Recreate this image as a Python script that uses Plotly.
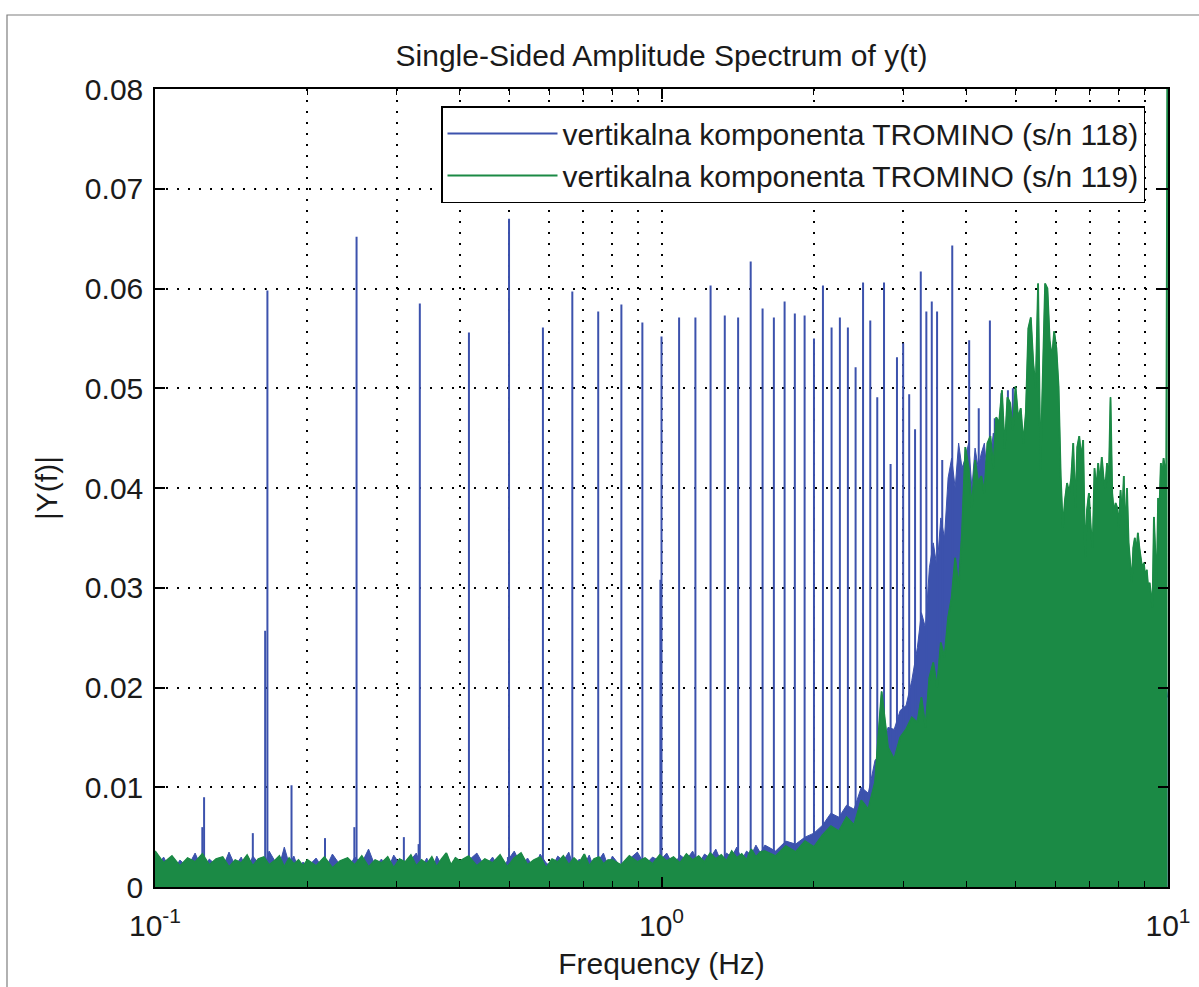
import plotly.graph_objects as go

# ---------------- data ----------------
# frequency sampling grid (Hz) used for reading the noise floor of both spectra
freq_low = [
    0.100, 0.104, 0.108, 0.112, 0.116, 0.120, 0.124, 0.128, 0.132, 0.136,
    0.140, 0.144, 0.148, 0.152, 0.156, 0.160, 0.164, 0.168, 0.172, 0.176,
    0.180, 0.184, 0.188, 0.192, 0.196,
    0.200, 0.208, 0.216, 0.224, 0.232, 0.240, 0.248, 0.256, 0.264, 0.272,
    0.280, 0.288, 0.296, 0.304, 0.312, 0.320, 0.328, 0.336, 0.344, 0.352,
    0.360, 0.368, 0.376, 0.384, 0.392,
    0.400, 0.416, 0.432, 0.448, 0.464, 0.480, 0.496, 0.512, 0.528, 0.544,
    0.560, 0.576, 0.592, 0.608, 0.624, 0.640, 0.656, 0.672, 0.688, 0.704,
    0.720, 0.736, 0.752, 0.768, 0.784,
    0.800, 0.832, 0.864, 0.896, 0.928, 0.960, 0.992, 1.024, 1.056, 1.088,
    1.120, 1.152, 1.184, 1.216, 1.248, 1.280, 1.312, 1.344, 1.376, 1.408,
    1.440, 1.472, 1.504, 1.536, 1.568,
]
freq_mid = [
    1.60, 1.68, 1.76, 1.84, 1.92, 2.00, 2.08, 2.16, 2.24, 2.32,
    2.40, 2.48, 2.56, 2.64, 2.72, 2.80, 2.88, 2.96, 3.04, 3.12,
]
freq_high = [
    3.20, 3.26, 3.32, 3.38, 3.44, 3.50, 3.56, 3.62, 3.68, 3.74,
    3.80, 3.86, 3.92, 3.98, 4.04, 4.10, 4.16, 4.22, 4.28, 4.34,
    4.40, 4.46, 4.52, 4.58, 4.64, 4.70, 4.76, 4.82, 4.88, 4.94,
    5.00, 5.06, 5.12, 5.18, 5.24, 5.30, 5.36, 5.42, 5.48, 5.54,
    5.60, 5.66, 5.72, 5.78, 5.84, 5.90, 5.96, 6.02, 6.08, 6.14,
    6.20, 6.26, 6.32, 6.38, 6.44, 6.50, 6.56, 6.62, 6.68, 6.74,
    6.80, 6.86, 6.92, 6.98, 7.04, 7.10, 7.16, 7.22, 7.28, 7.34,
    7.40, 7.46, 7.52, 7.58, 7.64, 7.70, 7.76, 7.82, 7.88, 7.94,
    8.00, 8.06, 8.12, 8.18, 8.24, 8.30, 8.36, 8.42, 8.48, 8.54,
    8.60, 8.66, 8.72, 8.78, 8.84, 8.90, 8.96, 9.02, 9.08, 9.14,
    9.20, 9.26, 9.32, 9.38, 9.44, 9.50, 9.56, 9.62, 9.68, 9.74,
    9.80, 9.86, 9.92, 9.98,
]

# |Y(f)| of s/n 118 (blue) noise floor
blue_low = [
    0.0018, 0.0030, 0.0014, 0.0027, 0.0020, 0.0034, 0.0017, 0.0028, 0.0022, 0.0019,
    0.0035, 0.0021, 0.0030, 0.0016, 0.0031, 0.0024, 0.0019, 0.0036, 0.0027, 0.0021,
    0.0040, 0.0023, 0.0031, 0.0018, 0.0025,
    0.0020, 0.0029, 0.0016, 0.0033, 0.0022, 0.0018, 0.0030, 0.0024, 0.0038, 0.0021,
    0.0028, 0.0017, 0.0032, 0.0023, 0.0019, 0.0027, 0.0034, 0.0020, 0.0029, 0.0016,
    0.0031, 0.0022, 0.0026, 0.0018, 0.0030,
    0.0019, 0.0027, 0.0034, 0.0020, 0.0030, 0.0017, 0.0026, 0.0036, 0.0022, 0.0029,
    0.0018, 0.0033, 0.0024, 0.0020, 0.0031, 0.0026, 0.0035, 0.0019, 0.0028, 0.0022,
    0.0032, 0.0018, 0.0027, 0.0034, 0.0021,
    0.0031, 0.0020, 0.0028, 0.0035, 0.0022, 0.0030, 0.0026, 0.0034, 0.0021, 0.0032,
    0.0027, 0.0036, 0.0023, 0.0033, 0.0029, 0.0038, 0.0025, 0.0034, 0.0030, 0.0040,
    0.0027, 0.0036, 0.0032, 0.0042, 0.0034,
]
blue_mid = [
    0.0042, 0.0036, 0.0046, 0.0043, 0.0050, 0.0054, 0.0062, 0.0074, 0.0070, 0.0082,
    0.0078, 0.0100, 0.0094, 0.0127, 0.0135, 0.0160, 0.0158, 0.0177, 0.0182, 0.0207,
]
blue_high = [
    0.0240, 0.0275, 0.0260, 0.0320, 0.0345, 0.0320, 0.0370, 0.0350, 0.0410, 0.0430,
    0.0400, 0.0445, 0.0420, 0.0430, 0.0445, 0.0400, 0.0440, 0.0420, 0.0435, 0.0445,
    0.0410, 0.0430, 0.0455, 0.0420, 0.0440, 0.0420, 0.0450, 0.0410, 0.0430, 0.0440,
    0.0400, 0.0380, 0.0350, 0.0365, 0.0330, 0.0355, 0.0340, 0.0320, 0.0345, 0.0310,
    0.0335, 0.0325, 0.0300, 0.0330, 0.0315, 0.0295, 0.0320, 0.0305, 0.0290, 0.0310,
    0.0300, 0.0285, 0.0305, 0.0290, 0.0275, 0.0300, 0.0285, 0.0270, 0.0295, 0.0280,
    0.0265, 0.0290, 0.0275, 0.0260, 0.0285, 0.0270, 0.0255, 0.0280, 0.0265, 0.0250,
    0.0275, 0.0260, 0.0245, 0.0270, 0.0255, 0.0240, 0.0265, 0.0250, 0.0235, 0.0260,
    0.0245, 0.0230, 0.0255, 0.0240, 0.0225, 0.0250, 0.0235, 0.0220, 0.0245, 0.0230,
    0.0215, 0.0240, 0.0225, 0.0210, 0.0235, 0.0220, 0.0205, 0.0230, 0.0215, 0.0200,
    0.0225, 0.0210, 0.0195, 0.0220, 0.0205, 0.0190, 0.0215, 0.0200, 0.0185, 0.0210,
    0.0195, 0.0180, 0.0205, 0.0190,
]

# |Y(f)| of s/n 119 (green)
green_low = [
    0.0036, 0.0024, 0.0031, 0.0021, 0.0029, 0.0025, 0.0033, 0.0022, 0.0028, 0.0030,
    0.0020, 0.0027, 0.0024, 0.0032, 0.0021, 0.0028, 0.0030, 0.0022, 0.0026, 0.0031,
    0.0020, 0.0029, 0.0023, 0.0027, 0.0021,
    0.0027, 0.0021, 0.0030, 0.0019, 0.0026, 0.0029, 0.0022, 0.0031, 0.0020, 0.0027,
    0.0024, 0.0030, 0.0019, 0.0028, 0.0025, 0.0032, 0.0021, 0.0027, 0.0023, 0.0030,
    0.0020, 0.0028, 0.0034, 0.0022, 0.0029,
    0.0026, 0.0031, 0.0021, 0.0028, 0.0024, 0.0032, 0.0020, 0.0029, 0.0034, 0.0022,
    0.0027, 0.0030, 0.0019, 0.0028, 0.0025, 0.0031, 0.0022, 0.0029, 0.0024, 0.0033,
    0.0021, 0.0028, 0.0030, 0.0023, 0.0027,
    0.0027, 0.0022, 0.0031, 0.0025, 0.0029, 0.0023, 0.0032, 0.0026, 0.0030, 0.0024,
    0.0033, 0.0027, 0.0031, 0.0025, 0.0034, 0.0028, 0.0032, 0.0026, 0.0036, 0.0029,
    0.0033, 0.0027, 0.0038, 0.0030, 0.0035,
]
green_mid = [
    0.0036, 0.0031, 0.0041, 0.0035, 0.0046, 0.0040, 0.0052, 0.0061, 0.0056, 0.0070,
    0.0062, 0.0087, 0.0078, 0.0105, 0.0196, 0.0140, 0.0128, 0.0150, 0.0158, 0.0170,
]
green_high = [
    0.0165, 0.0190, 0.0160, 0.0210, 0.0225, 0.0200, 0.0245, 0.0230, 0.0270, 0.0290,
    0.0330, 0.0300, 0.0355, 0.0441, 0.0420, 0.0380, 0.0428, 0.0405, 0.0412, 0.0395,
    0.0445, 0.0452, 0.0420, 0.0471, 0.0465, 0.0498, 0.0440, 0.0491, 0.0485, 0.0458,
    0.0502, 0.0470, 0.0480, 0.0445, 0.0475, 0.0560, 0.0571, 0.0525, 0.0500, 0.0605,
    0.0418, 0.0520, 0.0605, 0.0600, 0.0548, 0.0530, 0.0557, 0.0540, 0.0502, 0.0412,
    0.0360, 0.0388, 0.0405, 0.0395, 0.0410, 0.0445, 0.0380, 0.0441, 0.0452, 0.0430,
    0.0448, 0.0330, 0.0378, 0.0395, 0.0360, 0.0340, 0.0420, 0.0398, 0.0425, 0.0405,
    0.0431, 0.0410, 0.0400, 0.0425, 0.0405, 0.0491, 0.0395, 0.0375, 0.0385, 0.0380,
    0.0360, 0.0398, 0.0370, 0.0412, 0.0350, 0.0400, 0.0345, 0.0325, 0.0305, 0.0340,
    0.0350, 0.0335, 0.0355, 0.0340, 0.0330, 0.0318, 0.0325, 0.0310, 0.0318, 0.0300,
    0.0305, 0.0295, 0.0280, 0.0371, 0.0330, 0.0300, 0.0390, 0.0380, 0.0425, 0.0410,
    0.0430, 0.0420, 0.0400, 0.0900,
]

# discrete spectral lines of s/n 118 (blue)
spike_freq = [
    0.124, 0.125, 0.156, 0.165, 0.1667, 0.186, 0.2166, 0.2475, 0.25, 0.31,
    0.3315, 0.3333, 0.4167, 0.4975, 0.5, 0.5833, 0.6667, 0.75, 0.8333, 0.9167,
    0.995, 1.0, 1.0833, 1.1667, 1.25, 1.3333, 1.4167, 1.5, 1.5833, 1.6667,
    1.75, 1.8333, 1.9167, 2.0, 2.0833, 2.1667, 2.25, 2.3333, 2.4167, 2.5,
    2.5833, 2.6667, 2.75, 2.8333, 2.9167, 3.0, 3.0833, 3.1667, 3.25, 3.3333,
    3.4167, 3.5, 3.5833, 3.75, 4.05, 4.23, 4.45, 4.55, 4.69, 4.83,
    4.94, 5.22,
]
spike_amp = [
    0.0060, 0.0090, 0.0054, 0.0257, 0.0598, 0.0102, 0.0049, 0.0060, 0.0652, 0.0050,
    0.0043, 0.0585, 0.0556, 0.0030, 0.0670, 0.0561, 0.0597, 0.0577, 0.0584, 0.0566,
    0.0308, 0.0552, 0.0571, 0.0571, 0.0603, 0.0573, 0.0571, 0.0627, 0.0580, 0.0571,
    0.0587, 0.0575, 0.0573, 0.0550, 0.0603, 0.0561, 0.0571, 0.0561, 0.0521, 0.0606,
    0.0568, 0.0491, 0.0606, 0.0424, 0.0531, 0.0545, 0.0494, 0.0459, 0.0617, 0.0577,
    0.0587, 0.0577, 0.0428, 0.0643, 0.0548, 0.0480, 0.0568, 0.0470, 0.0495, 0.0498,
    0.0500, 0.0460,
]

x_tick_vals = [0.1, 1, 10]
x_tick_text = ["10<sup>-1</sup>", "10<sup>0</sup>", "10<sup>1</sup>"]
x_minor_vals = [0.2, 0.3, 0.4, 0.5, 0.6, 0.7, 0.8, 0.9, 2, 3, 4, 5, 6, 7, 8, 9]
y_tick_vals = [0, 0.01, 0.02, 0.03, 0.04, 0.05, 0.06, 0.07, 0.08]
y_tick_text = ["0", "0.01", "0.02", "0.03", "0.04", "0.05", "0.06", "0.07", "0.08"]

series_names = ["vertikalna komponenta TROMINO (s/n 118)",
                "vertikalna komponenta TROMINO (s/n 119)"]

# ---------------- build figure ----------------
BLUE = "#3c52ad"
GREEN = "#1b8a45"
TXT = "#1a1a1a"
FONT = "Liberation Sans, Arial, Helvetica, sans-serif"

freq = freq_low + freq_mid + freq_high
blue_noise = blue_low + blue_mid + blue_high
green_noise = green_low + green_mid + green_high

spike_x, spike_y = [], []
for f, a in zip(spike_freq, spike_amp):
    spike_x += [f, f, None]
    spike_y += [0, a, None]

fig = go.Figure()
fig.add_trace(go.Scatter(x=freq, y=blue_noise, mode="lines", fill="tozeroy",
                         fillcolor=BLUE, line=dict(color=BLUE, width=1),
                         showlegend=False, hoverinfo="skip"))
fig.add_trace(go.Scatter(x=spike_x, y=spike_y, mode="lines",
                         line=dict(color=BLUE, width=2),
                         name=series_names[0]))
fig.add_trace(go.Scatter(x=freq, y=green_noise, mode="lines", fill="tozeroy",
                         fillcolor=GREEN, line=dict(color=GREEN, width=1),
                         showlegend=False, hoverinfo="skip"))
fig.add_trace(go.Scatter(x=freq, y=green_noise, mode="lines",
                         line=dict(color=GREEN, width=1.8),
                         name=series_names[1]))

grid_dash = "2px,9px"
fig.update_layout(
    width=1199, height=987, autosize=False,
    margin=dict(l=155, r=31, t=89, b=100),
    paper_bgcolor="white", plot_bgcolor="white",
    font=dict(family=FONT, size=30, color=TXT),
    title=dict(text="Single-Sided Amplitude Spectrum of y(t)",
               x=0.5, xref="paper", xanchor="center",
               y=1 - 55 / 987, yref="container", yanchor="middle",
               font=dict(family=FONT, size=30, color=TXT)),
    xaxis=dict(type="log", range=[-1, 1], automargin=False,
               tickmode="array", tickvals=x_tick_vals, ticktext=x_tick_text,
               ticks="inside", ticklen=10, tickwidth=1.5, tickcolor="black",
               ticklabelstandoff=11,
               showline=True, linecolor="black", linewidth=1.5, mirror="allticks",
               showgrid=True, gridcolor="black", gridwidth=1.8, griddash=grid_dash,
               zeroline=False,
               minor=dict(tickmode="array", tickvals=x_minor_vals, ticks="inside",
                          ticklen=6, tickwidth=1, tickcolor="black",
                          showgrid=True, gridcolor="black", gridwidth=1.8,
                          griddash=grid_dash),
               title=dict(text="Frequency (Hz)", standoff=12,
                          font=dict(family=FONT, size=30, color=TXT)),
               tickfont=dict(family=FONT, size=30, color=TXT)),
    yaxis=dict(range=[0, 0.08], automargin=False,
               tickmode="array", tickvals=y_tick_vals, ticktext=y_tick_text,
               ticks="inside", ticklen=10, tickwidth=1.5, tickcolor="black",
               ticklabelstandoff=4,
               showline=True, linecolor="black", linewidth=1.5, mirror="allticks",
               showgrid=True, gridcolor="black", gridwidth=1.8, griddash=grid_dash,
               zeroline=False,
               title=dict(text="|Y(f)|", standoff=18,
                          font=dict(family=FONT, size=30, color=TXT)),
               tickfont=dict(family=FONT, size=30, color=TXT)),
    legend=dict(x=(441 - 155) / 1013, xanchor="left",
                y=(887 - 106) / 798, yanchor="top",
                bgcolor="white", bordercolor="black", borderwidth=1.5,
                itemwidth=110, font=dict(family=FONT, size=30, color=TXT)),
    shapes=[dict(type="rect", xref="paper", yref="paper",
                 x0=(7 - 155) / 1013, x1=1.1, y0=-0.3, y1=(887 - 15) / 798,
                 line=dict(color="#7f7f7f", width=1.2), layer="below")],
)

# the page's default 8px body margin would offset the figure; remove it
fig.write_html("out.html",
               config={"displayModeBar": False},
               post_script="document.body.style.margin='0px';"
                           "document.body.style.overflow='hidden';")
